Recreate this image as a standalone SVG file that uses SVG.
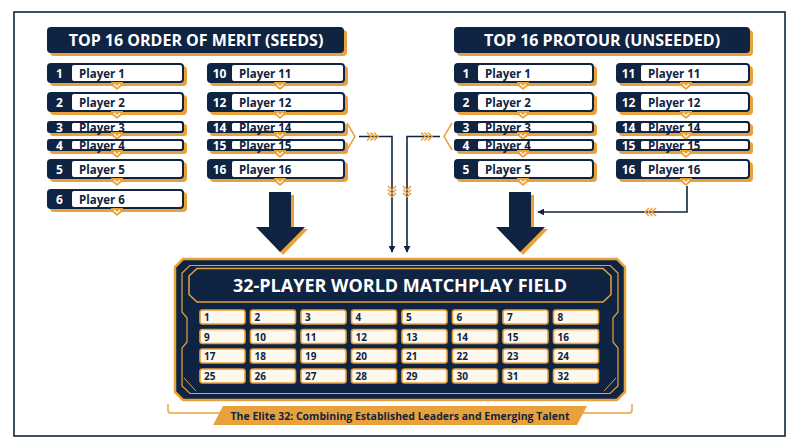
<svg xmlns="http://www.w3.org/2000/svg" xmlns:xlink="http://www.w3.org/1999/xlink" width="800" height="447" viewBox="0 0 800 447">
<style>
.sh{fill:#e9a23b}
.nv{fill:#0f2342}
.wh{fill:#ffffff}
.num{font-family:"Open Sans","Liberation Sans",sans-serif;font-weight:700;font-size:12px;fill:#ffffff;text-anchor:middle}
.pl{font-family:"Open Sans","Liberation Sans",sans-serif;font-weight:700;font-size:11.5px;fill:#0f2342}
.hd{font-family:"Open Sans","Liberation Sans",sans-serif;font-weight:700;font-size:16px;fill:#ffffff;text-anchor:middle}
.ttl{font-family:"Open Sans","Liberation Sans",sans-serif;font-weight:700;font-size:18px;fill:#ffffff;text-anchor:middle}
.cell rect{fill:#fdf8ee;stroke:#e9a23b;stroke-width:1.6}
.cell text{font-family:"Open Sans","Liberation Sans",sans-serif;font-weight:700;font-size:10px;fill:#0f2342}
.ln{fill:none;stroke:#0f2342;stroke-width:1.6}
.oc{fill:none;stroke:#e9a23b;stroke-width:1.5}
.ft{font-family:"Open Sans","Liberation Sans",sans-serif;font-weight:700;font-size:10.5px;fill:#0f2342;text-anchor:middle}
</style>
<defs>
<g id="chev"><path d="M-6,-3 L6,-3 L6,0 L0,5 L-6,0 Z" fill="#e9a23b"/><path d="M-3,-1 L0,2 L3,-1" fill="none" stroke="#fff" stroke-width="1.2"/></g>
<marker id="ah" viewBox="0 0 10 10" refX="9" refY="5" markerWidth="7" markerHeight="7" orient="auto" markerUnits="userSpaceOnUse"><path d="M0,0 L10,5 L0,10 Z" fill="#0f2342"/></marker>
<g id="tri"><path d="M0,-4 L4,0 L0,4 M3.5,-4 L7.5,0 L3.5,4 M7,-4 L11,0 L7,4" fill="none" stroke="#e9a23b" stroke-width="1.5"/></g>
</defs>
<rect x="0" y="0" width="800" height="447" fill="#ffffff"/>
<rect x="14" y="12" width="771" height="424" fill="none" stroke="#0f2342" stroke-width="1.6"/>

<g id="header-left">
<rect x="50" y="30" width="297" height="26" rx="4" class="sh"/>
<rect x="47" y="27" width="297" height="26" rx="4" class="nv"/>
<text x="196" y="46" class="hd">TOP 16 ORDER OF MERIT (SEEDS)</text>
</g>
<g id="header-right">
<rect x="457" y="30" width="296" height="26" rx="4" class="sh"/>
<rect x="454" y="27" width="296" height="26" rx="4" class="nv"/>
<text x="602" y="46" class="hd">TOP 16 PROTOUR (UNSEEDED)</text>
</g>

<!-- Left column 1 -->
<g id="seed-1"><rect x="50" y="66" width="137" height="20" rx="4" class="sh"/><rect x="47" y="63" width="137" height="20" rx="4" class="nv"/><rect x="72" y="65" width="110" height="16" rx="2" class="wh"/><text x="59.5" y="77.5" class="num">1</text><text x="79" y="77.5" class="pl">Player 1</text><use href="#chev" x="117" y="85"/></g>
<g id="seed-2"><rect x="50" y="95" width="137" height="20" rx="4" class="sh"/><rect x="47" y="92" width="137" height="20" rx="4" class="nv"/><rect x="72" y="94" width="110" height="16" rx="2" class="wh"/><text x="59.5" y="106.5" class="num">2</text><text x="79" y="106.5" class="pl">Player 2</text><use href="#chev" x="117" y="114"/></g>
<g id="seed-3"><rect x="50" y="124" width="137" height="12" rx="3" class="sh"/><rect x="47" y="121" width="137" height="12" rx="3" class="nv"/><rect x="72" y="123" width="110" height="8" rx="1.5" class="wh"/><text x="59.5" y="131.5" class="num">3</text><text x="79" y="131.5" class="pl">Player 3</text><use href="#chev" x="117" y="135"/></g>
<g id="seed-4"><rect x="50" y="142" width="137" height="12" rx="3" class="sh"/><rect x="47" y="139" width="137" height="12" rx="3" class="nv"/><rect x="72" y="141" width="110" height="8" rx="1.5" class="wh"/><text x="59.5" y="149.5" class="num">4</text><text x="79" y="149.5" class="pl">Player 4</text><use href="#chev" x="117" y="153"/></g>
<g id="seed-5"><rect x="50" y="162" width="137" height="20" rx="4" class="sh"/><rect x="47" y="159" width="137" height="20" rx="4" class="nv"/><rect x="72" y="161" width="110" height="16" rx="2" class="wh"/><text x="59.5" y="173.5" class="num">5</text><text x="79" y="173.5" class="pl">Player 5</text><use href="#chev" x="117" y="181"/></g>
<g id="seed-6"><rect x="50" y="192" width="137" height="20" rx="4" class="sh"/><rect x="47" y="189" width="137" height="20" rx="4" class="nv"/><rect x="72" y="191" width="110" height="16" rx="2" class="wh"/><text x="59.5" y="203.5" class="num">6</text><text x="79" y="203.5" class="pl">Player 6</text><use href="#chev" x="117" y="211"/></g>

<!-- Left column 2 -->
<g id="seed-10"><rect x="210" y="66" width="138" height="20" rx="4" class="sh"/><rect x="207" y="63" width="138" height="20" rx="4" class="nv"/><rect x="232" y="65" width="111" height="16" rx="2" class="wh"/><text x="219.5" y="77.5" class="num">10</text><text x="239" y="77.5" class="pl">Player 11</text><use href="#chev" x="280" y="85"/></g>
<g id="seed-12"><rect x="210" y="95" width="138" height="20" rx="4" class="sh"/><rect x="207" y="92" width="138" height="20" rx="4" class="nv"/><rect x="232" y="94" width="111" height="16" rx="2" class="wh"/><text x="219.5" y="106.5" class="num">12</text><text x="239" y="106.5" class="pl">Player 12</text><use href="#chev" x="280" y="114"/></g>
<g id="seed-14"><rect x="210" y="124" width="138" height="12" rx="3" class="sh"/><rect x="207" y="121" width="138" height="12" rx="3" class="nv"/><rect x="232" y="123" width="111" height="8" rx="1.5" class="wh"/><text x="219.5" y="131.5" class="num">14</text><text x="239" y="131.5" class="pl">Player 14</text><use href="#chev" x="280" y="135"/></g>
<g id="seed-15"><rect x="210" y="142" width="138" height="12" rx="3" class="sh"/><rect x="207" y="139" width="138" height="12" rx="3" class="nv"/><rect x="232" y="141" width="111" height="8" rx="1.5" class="wh"/><text x="219.5" y="149.5" class="num">15</text><text x="239" y="149.5" class="pl">Player 15</text><use href="#chev" x="280" y="153"/></g>
<g id="seed-16"><rect x="210" y="162" width="138" height="20" rx="4" class="sh"/><rect x="207" y="159" width="138" height="20" rx="4" class="nv"/><rect x="232" y="161" width="111" height="16" rx="2" class="wh"/><text x="219.5" y="173.5" class="num">16</text><text x="239" y="173.5" class="pl">Player 16</text><use href="#chev" x="280" y="181"/></g>

<!-- Right column 1 -->
<g id="pt-1"><rect x="457" y="66" width="140" height="20" rx="4" class="sh"/><rect x="454" y="63" width="140" height="20" rx="4" class="nv"/><rect x="478" y="65" width="114" height="16" rx="2" class="wh"/><text x="466" y="77.5" class="num">1</text><text x="485" y="77.5" class="pl">Player 1</text><use href="#chev" x="523" y="85"/></g>
<g id="pt-2"><rect x="457" y="95" width="140" height="20" rx="4" class="sh"/><rect x="454" y="92" width="140" height="20" rx="4" class="nv"/><rect x="478" y="94" width="114" height="16" rx="2" class="wh"/><text x="466" y="106.5" class="num">2</text><text x="485" y="106.5" class="pl">Player 2</text><use href="#chev" x="523" y="114"/></g>
<g id="pt-3"><rect x="457" y="124" width="140" height="12" rx="3" class="sh"/><rect x="454" y="121" width="140" height="12" rx="3" class="nv"/><rect x="478" y="123" width="114" height="8" rx="1.5" class="wh"/><text x="466" y="131.5" class="num">3</text><text x="485" y="131.5" class="pl">Player 3</text><use href="#chev" x="523" y="135"/></g>
<g id="pt-4"><rect x="457" y="142" width="140" height="12" rx="3" class="sh"/><rect x="454" y="139" width="140" height="12" rx="3" class="nv"/><rect x="478" y="141" width="114" height="8" rx="1.5" class="wh"/><text x="466" y="149.5" class="num">4</text><text x="485" y="149.5" class="pl">Player 4</text><use href="#chev" x="523" y="153"/></g>
<g id="pt-5"><rect x="457" y="162" width="140" height="20" rx="4" class="sh"/><rect x="454" y="159" width="140" height="20" rx="4" class="nv"/><rect x="478" y="161" width="114" height="16" rx="2" class="wh"/><text x="466" y="173.5" class="num">5</text><text x="485" y="173.5" class="pl">Player 5</text><use href="#chev" x="523" y="181"/></g>

<!-- Right column 2 -->
<g id="pt-11"><rect x="619" y="66" width="134" height="20" rx="4" class="sh"/><rect x="616" y="63" width="134" height="20" rx="4" class="nv"/><rect x="641" y="65" width="107" height="16" rx="2" class="wh"/><text x="628.5" y="77.5" class="num">11</text><text x="648" y="77.5" class="pl">Player 11</text><use href="#chev" x="686" y="85"/></g>
<g id="pt-12"><rect x="619" y="95" width="134" height="20" rx="4" class="sh"/><rect x="616" y="92" width="134" height="20" rx="4" class="nv"/><rect x="641" y="94" width="107" height="16" rx="2" class="wh"/><text x="628.5" y="106.5" class="num">12</text><text x="648" y="106.5" class="pl">Player 12</text><use href="#chev" x="686" y="114"/></g>
<g id="pt-14"><rect x="619" y="124" width="134" height="12" rx="3" class="sh"/><rect x="616" y="121" width="134" height="12" rx="3" class="nv"/><rect x="641" y="123" width="107" height="8" rx="1.5" class="wh"/><text x="628.5" y="131.5" class="num">14</text><text x="648" y="131.5" class="pl">Player 14</text><use href="#chev" x="686" y="135"/></g>
<g id="pt-15"><rect x="619" y="142" width="134" height="12" rx="3" class="sh"/><rect x="616" y="139" width="134" height="12" rx="3" class="nv"/><rect x="641" y="141" width="107" height="8" rx="1.5" class="wh"/><text x="628.5" y="149.5" class="num">15</text><text x="648" y="149.5" class="pl">Player 15</text><use href="#chev" x="686" y="153"/></g>
<g id="pt-16"><rect x="619" y="162" width="134" height="20" rx="4" class="sh"/><rect x="616" y="159" width="134" height="20" rx="4" class="nv"/><rect x="641" y="161" width="107" height="16" rx="2" class="wh"/><text x="628.5" y="173.5" class="num">16</text><text x="648" y="173.5" class="pl">Player 16</text><use href="#chev" x="686" y="181"/></g>

<!-- Connectors -->
<g id="connectors">
<path class="oc" d="M347,123 L355,136.5 L347,150"/>
<path class="oc" d="M452,123 L444,136.5 L452,150"/>
<path class="ln" d="M359,136.5 L392,136.5 L392,252" marker-end="url(#ah)"/>
<path class="ln" d="M440,136.5 L407,136.5 L407,252" marker-end="url(#ah)"/>
<path class="ln" d="M687,186 L687,212 L538,212" marker-end="url(#ah)"/>
<use href="#tri" x="367" y="136.5"/>
<use href="#tri" x="421" y="136.5"/>
<use href="#tri" transform="translate(392,186) rotate(90)"/>
<use href="#tri" transform="translate(407,186) rotate(90)"/>
<use href="#tri" transform="translate(656,212) rotate(180)"/>
<g id="bigarrow-left">
<path d="M272,195 L294,195 L294,229 L308,229 L283,255 L259,229 L272,229 Z" class="sh"/>
<path d="M269,192 L291,192 L291,227 L305,227 L280,252 L256,227 L269,227 Z" class="nv"/>
</g>
<g id="bigarrow-right">
<path d="M512,195 L534,195 L534,229 L548,229 L523,255 L499,229 L512,229 Z" class="sh"/>
<path d="M509,192 L531,192 L531,227 L545,227 L520,252 L496,227 L509,227 Z" class="nv"/>
</g>
</g>

<!-- Main panel -->
<g id="field">
<path d="M183,259 L617,259 L625,267 L625,392 L617,400 L183,400 L175,392 L175,267 Z" fill="#0f2342" stroke="#e9a23b" stroke-width="2.5"/>
<path d="M190,265.5 L610,265.5 L618,273 L618,312 L613,318 L613,342 L618,348 L618,386 L610,393.5 L190,393.5 L182,386 L182,348 L187,342 L187,318 L182,312 L182,273 Z" fill="none" stroke="#e9a23b" stroke-width="1.2"/>
<path d="M184,378 L196,391 M604,391 L616,378" fill="none" stroke="#e9a23b" stroke-width="1"/>
<path d="M197,268.5 L603,268.5 L611,276 L611,294.5 L603,302 L197,302 L189,294.5 L189,276 Z" fill="#0f2342" stroke="#e9a23b" stroke-width="1.5"/>
<text x="400" y="292" class="ttl">32-PLAYER WORLD MATCHPLAY FIELD</text>
<g class="cell">
<rect x="200" y="310" width="45" height="14" rx="2.5"/><text x="204" y="321">1</text>
<rect x="250.5" y="310" width="45" height="14" rx="2.5"/><text x="254.5" y="321">2</text>
<rect x="301" y="310" width="45" height="14" rx="2.5"/><text x="305" y="321">3</text>
<rect x="351.5" y="310" width="45" height="14" rx="2.5"/><text x="355.5" y="321">4</text>
<rect x="402" y="310" width="45" height="14" rx="2.5"/><text x="406" y="321">5</text>
<rect x="452.5" y="310" width="45" height="14" rx="2.5"/><text x="456.5" y="321">6</text>
<rect x="503" y="310" width="45" height="14" rx="2.5"/><text x="507" y="321">7</text>
<rect x="553.5" y="310" width="45" height="14" rx="2.5"/><text x="557.5" y="321">8</text>
<rect x="200" y="329.5" width="45" height="14" rx="2.5"/><text x="204" y="340.5">9</text>
<rect x="250.5" y="329.5" width="45" height="14" rx="2.5"/><text x="254.5" y="340.5">10</text>
<rect x="301" y="329.5" width="45" height="14" rx="2.5"/><text x="305" y="340.5">11</text>
<rect x="351.5" y="329.5" width="45" height="14" rx="2.5"/><text x="355.5" y="340.5">12</text>
<rect x="402" y="329.5" width="45" height="14" rx="2.5"/><text x="406" y="340.5">13</text>
<rect x="452.5" y="329.5" width="45" height="14" rx="2.5"/><text x="456.5" y="340.5">14</text>
<rect x="503" y="329.5" width="45" height="14" rx="2.5"/><text x="507" y="340.5">15</text>
<rect x="553.5" y="329.5" width="45" height="14" rx="2.5"/><text x="557.5" y="340.5">16</text>
<rect x="200" y="349" width="45" height="14" rx="2.5"/><text x="204" y="360">17</text>
<rect x="250.5" y="349" width="45" height="14" rx="2.5"/><text x="254.5" y="360">18</text>
<rect x="301" y="349" width="45" height="14" rx="2.5"/><text x="305" y="360">19</text>
<rect x="351.5" y="349" width="45" height="14" rx="2.5"/><text x="355.5" y="360">20</text>
<rect x="402" y="349" width="45" height="14" rx="2.5"/><text x="406" y="360">21</text>
<rect x="452.5" y="349" width="45" height="14" rx="2.5"/><text x="456.5" y="360">22</text>
<rect x="503" y="349" width="45" height="14" rx="2.5"/><text x="507" y="360">23</text>
<rect x="553.5" y="349" width="45" height="14" rx="2.5"/><text x="557.5" y="360">24</text>
<rect x="200" y="369" width="45" height="14" rx="2.5"/><text x="204" y="380">25</text>
<rect x="250.5" y="369" width="45" height="14" rx="2.5"/><text x="254.5" y="380">26</text>
<rect x="301" y="369" width="45" height="14" rx="2.5"/><text x="305" y="380">27</text>
<rect x="351.5" y="369" width="45" height="14" rx="2.5"/><text x="355.5" y="380">28</text>
<rect x="402" y="369" width="45" height="14" rx="2.5"/><text x="406" y="380">29</text>
<rect x="452.5" y="369" width="45" height="14" rx="2.5"/><text x="456.5" y="380">30</text>
<rect x="503" y="369" width="45" height="14" rx="2.5"/><text x="507" y="380">31</text>
<rect x="553.5" y="369" width="45" height="14" rx="2.5"/><text x="557.5" y="380">32</text>
</g>
</g>

<g id="footer">
<path d="M168,404 L168,410 Q168,413 171,413 L222,413 M632,404 L632,410 Q632,413 629,413 L580,413" fill="none" stroke="#e9a23b" stroke-width="1.5"/>
<path d="M223,406 L587,406 L577,425 L213,425 Z" fill="#e9a23b"/>
<text x="400" y="419.5" class="ft">The Elite 32: Combining Established Leaders and Emerging Talent</text>
</g>
</svg>
